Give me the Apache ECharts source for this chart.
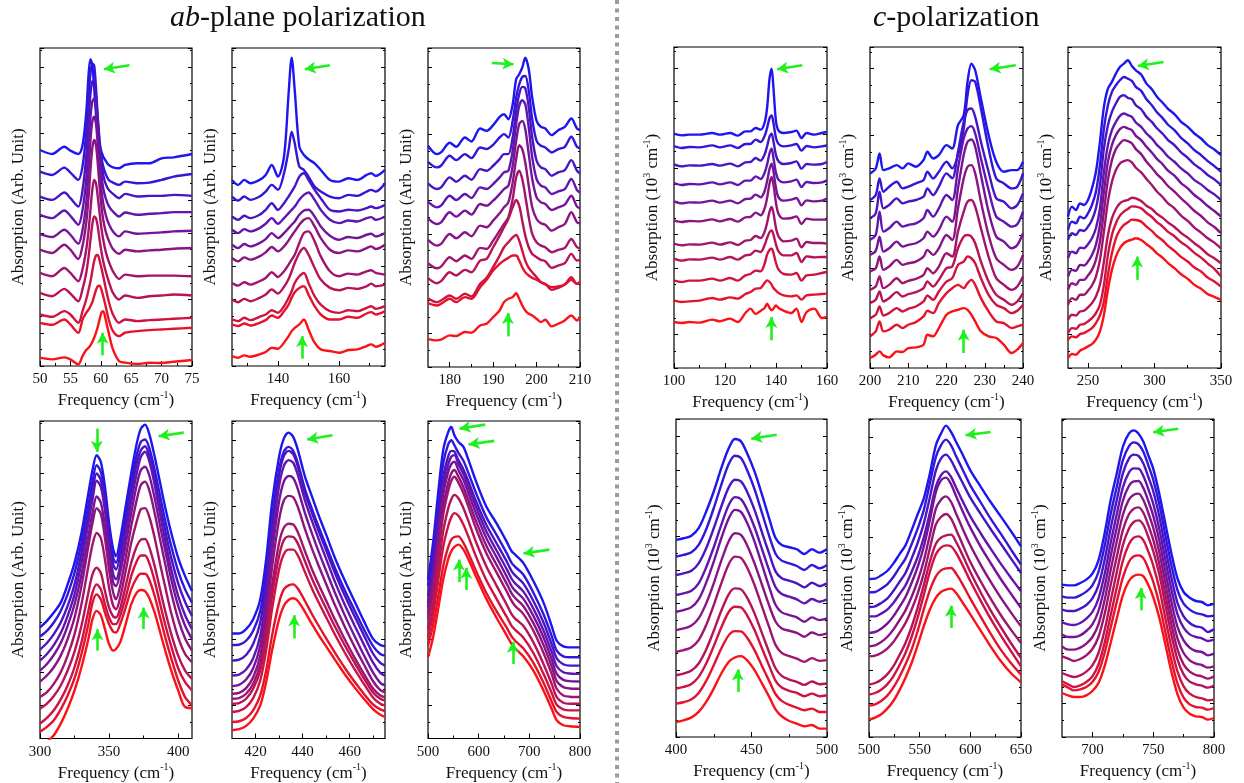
<!DOCTYPE html>
<html><head><meta charset="utf-8">
<script src="https://cdn.jsdelivr.net/npm/echarts@6/dist/echarts.min.js"></script>
<style>html,body{margin:0;padding:0;background:#fff}#c{width:1244px;height:783px}</style>
</head><body><div id="c"></div>
<script>
// ---------- DATA (curves listed bottom/red -> top/blue, arbitrary stacked units) ----------
const freqP1 = [50,52,54,55,56.3,57,57.6,58,58.3,58.6,58.9,59.2,59.5,59.8,60.1,60.4,60.8,61.3,62,63,64,66,68,70,72,75];
const absP1 = [
[25,20,26,20,5,30,48,55,62,72,85,100,118,140,160,165,140,100,50,15,10,6,10,9,13,18],
[130,124,140,125,100,140,160,170,180,192,210,228,240,242,230,210,180,140,105,90,100,105,108,110,112,115],
[155,148,165,155,130,165,200,230,255,285,315,332,334,318,295,270,235,195,155,130,140,135,138,140,142,145],
[220,210,232,218,195,232,280,330,380,425,450,445,420,380,345,315,285,255,220,200,212,205,210,212,215,212],
[280,270,295,280,255,292,350,410,470,530,560,550,510,460,415,380,345,315,285,262,275,270,272,272,272,270],
[350,340,365,350,322,362,430,510,590,655,680,665,610,540,480,440,405,378,352,338,350,345,348,350,353,355],
[397,388,410,395,368,410,490,590,680,735,750,730,665,590,530,490,455,428,405,390,405,398,400,402,405,407],
[455,445,468,452,425,470,560,670,750,795,805,775,705,630,575,535,505,482,465,450,462,455,458,460,463,463],
[510,500,522,505,480,530,630,740,820,855,860,815,740,665,610,575,548,530,518,505,518,510,512,512,515,512],
[585,575,597,582,560,602,700,810,880,910,905,840,750,680,630,600,578,560,552,545,555,550,552,560,570,578],
[650,638,660,648,638,665,760,880,923,905,840,760,700,665,645,630,618,605,598,595,605,610,610,625,628,638]];
const arrowsP1 = [[64.7,905,60.5,893],[60.3,32,60.3,100]];

const freqP2 = [125,127,129,131,134,136,138,140,142,143.5,144.5,145.5,147,148.5,150,152,154,157,160,163,166,169,170.5,172,175];
const absP2 = [
[30,25,32,28,35,42,55,52,70,90,105,115,125,140,110,70,50,45,40,48,50,60,65,58,70],
[125,120,128,122,130,138,152,145,165,185,205,222,235,240,215,180,155,140,140,148,145,158,162,155,165],
[140,135,145,138,148,155,168,160,180,205,225,250,270,280,250,210,185,165,160,168,165,175,180,172,180],
[200,192,202,195,205,215,230,218,238,262,285,310,340,355,335,295,260,235,228,235,232,240,248,240,245],
[250,242,252,245,255,265,282,268,285,305,320,335,370,400,405,375,330,285,270,278,275,285,288,280,275],
[325,315,327,320,330,342,358,345,360,378,392,405,425,440,445,420,385,350,340,348,345,355,360,352,365],
[365,355,367,360,370,382,400,385,400,415,425,435,455,468,470,450,420,392,380,388,385,395,398,390,400],
[410,400,412,405,415,428,445,428,445,460,470,480,500,515,522,500,470,440,430,438,435,445,448,440,450],
[450,440,452,445,455,470,490,470,490,510,525,540,570,580,560,530,505,470,465,470,468,475,480,475,485],
[510,498,510,500,510,525,545,530,580,650,705,670,600,590,570,540,525,510,505,515,512,525,530,525,550],
[560,545,560,550,560,575,605,570,630,820,928,830,660,635,622,610,590,560,555,565,560,575,580,572,590]];
const arrowsP2 = [[157.0,905,148.8,893],[147.9,22,147.9,90]];

const freqP3 = [175,177,178,180,181.5,183.5,185,187,188.5,190,191.5,192.5,193.5,194.5,195.3,196,196.7,197.4,198.2,199,200,201,202,203.5,205,206.5,208,209.3,210];
const absP3 = [
[84,80,82,95,93,105,103,125,130,150,170,195,205,210,222,205,185,170,160,155,145,135,142,122,130,140,155,140,150],
[192,185,190,205,195,210,205,240,262,290,310,320,328,335,335,320,300,285,275,268,262,255,248,240,242,248,262,250,257],
[207,195,200,215,205,220,212,250,268,300,335,360,375,390,397,380,350,320,298,285,270,255,250,232,238,248,270,250,252],
[267,252,258,285,275,292,285,320,325,360,395,420,445,480,502,485,440,395,360,340,330,322,318,298,305,312,340,320,322],
[312,297,302,330,318,335,325,358,355,380,410,430,450,505,570,590,565,515,450,400,375,365,360,345,352,358,385,360,357],
[382,365,370,400,387,405,393,425,420,440,462,480,495,555,625,667,655,615,545,480,445,432,428,410,420,430,465,435,432],
[447,430,435,465,452,470,458,490,485,500,520,535,545,605,680,730,740,715,640,565,510,495,490,472,480,488,515,482,477],
[497,480,485,515,502,520,508,540,535,550,570,585,590,650,730,785,802,790,720,630,565,545,540,520,528,535,565,532,524],
[552,535,540,570,557,575,563,595,590,605,625,640,640,690,770,820,842,838,780,690,620,600,595,575,585,592,622,590,582],
[617,600,605,635,622,640,628,660,655,668,690,700,690,740,810,850,872,875,830,745,680,665,660,645,655,662,692,662,657],
[665,640,645,674,662,690,678,717,710,727,752,760,745,790,865,880,900,930,895,810,740,722,717,697,712,722,747,717,712]];
const arrowsP3 = [[189.7,914,194.7,910],[193.4,92,193.4,162]];

const freqP4 = [100,103,106,110,115,118,122,125,128,130,132,134,135.5,136.5,137.5,138.3,139,140,141,143,146,148,150,152,155,158,160];
const absP4 = [
[138,135,138,136,145,140,148,138,165,178,162,172,180,193,180,173,178,188,180,172,165,178,138,168,178,150,153],
[203,198,200,202,210,205,212,208,222,228,238,240,255,263,258,250,240,232,225,218,215,218,205,218,220,222,223],
[263,258,262,262,268,262,270,262,278,282,292,290,312,340,355,358,345,315,295,282,280,285,262,278,280,285,288],
[328,322,326,325,331,325,333,325,338,340,352,348,368,390,408,413,400,370,350,338,338,345,318,335,332,333,333],
[373,368,371,370,376,370,377,369,382,384,396,390,408,435,470,483,465,420,395,380,382,388,362,378,375,375,373],
[443,438,441,440,446,440,447,439,452,453,466,458,478,510,555,573,550,495,462,448,450,455,432,448,445,445,445],
[500,494,497,496,502,496,502,494,507,508,520,512,530,560,598,613,590,540,512,502,505,510,488,503,500,502,508],
[555,549,552,551,557,551,557,549,562,562,575,567,585,610,645,658,630,585,565,557,560,565,543,558,555,557,563],
[611,605,608,607,612,607,613,605,617,618,630,622,640,665,695,703,680,638,620,612,615,620,598,612,610,612,618],
[666,660,663,662,668,662,668,660,672,672,685,678,695,720,750,758,735,690,672,665,668,672,652,666,662,665,668],
[703,698,700,700,705,700,705,697,710,710,720,715,735,780,870,898,840,740,712,705,708,712,690,705,700,705,708]];
const arrowsP4 = [[150.3,908,140.4,896],[138.2,83,138.2,153]];

const freqP5 = [200,201.5,202.5,203.5,205,207,208.5,210,212,214,215,216.5,218,220,221.5,223,224.5,225.5,226.5,227.5,229,231,233,235,237,238.5,240];
const absP5 = [
[30,40,50,38,32,50,48,60,62,70,100,95,120,160,170,175,180,175,160,140,110,95,90,70,45,55,75],
[95,110,140,110,115,130,120,130,138,155,172,165,195,225,240,250,240,255,265,250,210,170,140,135,120,125,130],
[150,160,185,158,165,180,170,178,185,200,218,205,230,260,270,310,320,335,330,315,270,220,190,180,165,172,190],
[195,205,230,200,210,228,215,222,228,240,260,245,265,300,305,360,395,400,395,375,320,260,220,205,190,200,225],
[235,245,275,240,250,270,255,262,268,280,300,285,305,345,335,410,470,500,505,485,420,335,270,250,235,245,275],
[290,300,335,295,305,325,310,315,320,335,355,340,360,400,385,480,570,605,610,585,500,400,330,310,295,305,340],
[340,352,395,350,360,380,365,370,375,390,410,395,415,455,440,540,640,680,687,665,580,470,395,380,360,370,405],
[385,400,470,410,420,440,425,430,435,450,475,455,480,520,505,600,690,720,727,705,630,535,455,440,425,432,470],
[450,465,530,480,490,510,495,500,505,515,540,520,545,585,570,650,740,775,780,755,680,590,510,500,480,490,525],
[505,520,570,530,545,560,540,545,555,565,590,570,590,620,600,640,720,820,865,860,780,660,570,555,540,545,585],
[585,600,645,595,600,610,600,615,605,625,650,630,640,670,660,730,760,860,915,895,810,700,620,590,595,595,620]];
const arrowsP5 = [[238.1,910,231.3,898],[224.5,45,224.5,115]];

const freqP6 = [235,238,241,244,247,250,253,256,259,262,265,268,271,274,277,280,283,286,290,294,298,302,306,310,315,320,325,330,335,340,345,350];
const absP6 = [
[30,42,40,52,58,65,72,85,110,160,235,295,335,360,375,382,386,390,385,372,360,344,332,316,300,282,268,250,238,222,214,205],
[85,95,92,102,105,112,120,135,158,200,280,345,390,415,430,438,446,445,440,425,412,396,384,368,352,334,320,302,290,272,260,245],
[105,120,118,130,132,140,150,165,190,250,340,400,435,458,470,478,486,485,480,466,454,438,426,410,396,378,364,346,332,314,298,275],
[145,160,158,170,172,182,195,215,250,320,400,450,478,495,502,505,512,510,502,488,478,463,452,438,424,406,392,375,360,342,330,315],
[190,210,205,220,220,232,248,275,325,410,500,560,595,615,622,625,618,602,588,568,550,530,514,496,480,458,442,422,407,390,377,360],
[235,255,250,265,265,278,295,325,380,470,565,625,658,675,685,682,675,658,643,620,602,582,567,548,530,510,492,472,457,438,424,405],
[275,295,292,310,308,320,340,370,430,530,620,670,700,718,725,720,715,698,685,665,648,628,613,594,578,556,540,520,505,487,472,455],
[330,350,345,362,360,372,390,420,480,590,670,715,740,758,765,760,755,738,725,705,690,670,655,636,620,600,585,565,552,535,522,505],
[385,405,400,415,412,425,445,480,550,660,730,770,795,815,820,812,808,790,778,755,740,720,705,686,670,648,632,612,598,580,567,550],
[415,440,435,455,450,465,490,530,610,720,790,830,850,865,875,870,863,845,833,808,790,768,752,732,715,692,675,655,640,622,607,590],
[455,485,475,495,490,505,540,590,680,785,840,860,885,905,915,925,908,895,882,855,838,815,798,780,763,740,725,705,690,670,657,640]];
const arrowsP6 = [[306.8,920,287.5,908],[287,265,287,335]];

const freqP7 = [300,305,310,315,320,325,330,335,338,341,344,347,350,353,355,358,362,366,370,373,376,379,383,387,391,395,400,405,410];
const absP7 = [
[-25,-10,10,45,90,145,215,300,360,385,372,330,285,265,270,290,345,405,440,448,445,425,380,320,260,205,145,95,92],
[20,35,55,88,130,182,255,345,410,435,420,380,345,322,320,345,395,450,485,497,497,480,430,365,300,242,175,125,100],
[45,62,85,118,160,215,290,385,440,465,450,405,365,345,345,370,425,490,535,552,552,530,475,405,338,278,212,170,145],
[90,105,128,160,205,262,340,440,495,515,500,445,395,368,365,392,460,530,580,600,602,578,520,448,378,315,250,205,180],
[125,140,165,200,250,315,405,520,585,620,605,540,455,400,390,425,505,590,655,692,695,670,605,525,450,378,305,255,230],
[172,190,215,250,300,365,460,580,650,695,678,605,510,440,420,460,545,640,720,765,775,750,680,598,518,440,360,302,265],
[205,225,252,288,340,405,495,610,680,730,712,640,545,470,460,500,585,680,765,810,820,795,725,640,560,480,400,340,300],
[235,255,282,318,370,435,530,650,720,778,760,688,580,495,480,520,615,715,800,850,865,838,765,675,590,510,430,372,330],
[268,288,315,350,400,465,560,675,745,800,780,710,605,525,510,550,645,745,830,870,882,855,785,700,620,545,468,412,370],
[308,325,350,385,435,500,590,705,775,825,805,735,630,545,530,575,670,770,855,895,902,878,810,730,650,580,505,450,410],
[335,355,380,410,465,530,620,740,810,855,835,760,650,570,550,600,700,800,890,935,947,920,850,770,690,620,545,490,445]];
const arrowsP7 = [[341.1,935,341.1,865],[404,923,385.8,912],[341.6,265,341.6,330],[375,330,375,395]];

const freqP8 = [410,413,416,419,422,424.5,427,430,432,434,436,438,441,444,447,450,454,458,462,466,470,473,475];
const absP8 = [
[25,28,38,60,100,170,265,360,400,418,423,415,382,345,310,278,235,193,155,120,88,72,65],
[50,52,62,85,130,205,310,410,450,462,465,452,415,375,338,302,256,212,172,135,102,88,83],
[80,83,95,122,175,265,390,510,556,570,570,552,502,452,408,366,310,258,210,165,123,105,100],
[105,107,120,150,205,300,430,550,598,610,608,588,535,482,436,392,334,280,230,182,138,120,115],
[120,122,135,165,225,325,460,590,636,648,646,622,565,510,462,416,355,298,245,196,150,130,125],
[135,138,152,185,250,360,515,660,718,732,728,698,632,572,518,466,398,336,278,224,172,146,140],
[158,162,178,212,280,395,560,715,775,792,786,752,680,618,560,506,435,370,310,252,198,168,160],
[190,193,208,242,310,430,600,762,822,840,832,795,718,656,598,542,468,402,342,284,228,198,190],
[235,238,252,285,350,470,640,795,852,868,858,820,740,680,622,568,495,430,370,312,255,228,220],
[282,283,295,325,385,500,665,810,865,880,868,830,752,692,635,582,510,446,388,330,278,255,250],
[317,317,330,360,420,540,710,850,905,923,910,870,790,730,670,615,540,475,415,355,300,282,278]];
const arrowsP8 = [[452.7,915,441.9,902],[436.4,302,436.4,372]];

const freqP9 = [500,510,520,530,540,546,552,560,570,580,595,615,635,655,665,672,688,708,728,744,754,767,780,800];
const absP9 = [
[245,305,390,480,542,565,578,585,570,540,488,422,365,312,285,272,248,205,145,90,55,40,37,35],
[280,342,428,520,578,600,608,610,590,558,505,440,385,335,308,295,272,228,168,112,80,65,62,60],
[305,375,475,578,642,668,680,672,645,608,548,478,422,368,340,328,305,258,195,138,102,88,85,85],
[330,405,512,625,695,722,735,725,695,655,592,520,462,405,375,362,340,290,225,165,125,108,105,105],
[360,440,555,675,748,778,790,772,740,698,633,560,502,445,415,400,376,325,258,195,150,130,126,125],
[375,460,580,700,772,800,810,790,758,718,655,582,525,468,438,424,400,348,282,218,173,155,151,150],
[395,485,610,735,805,828,835,810,780,740,678,605,548,490,460,446,422,370,305,240,195,177,173,172],
[410,505,635,760,828,850,855,828,798,758,698,625,568,512,482,468,444,392,326,262,218,200,196,195],
[430,530,665,790,852,868,866,840,812,775,715,645,590,535,505,492,468,415,350,285,242,224,220,220],
[460,565,705,830,888,900,885,862,838,800,740,668,615,560,530,518,495,440,375,310,265,248,245,245],
[480,590,740,870,925,940,915,895,880,840,775,700,650,595,565,555,530,475,410,340,295,278,275,275]];
const arrowsP9 = [[612.9,947,562.4,935],[630.7,898,580.1,887],[739.7,570,688.4,558],[561,472,561,540],[575.5,448,575.5,515],[667.4,225,667.4,292]];

const freqP10 = [400,405,410,415,420,425,430,435,439,443,447,452,457,462,466,470,475,480,485,490,495,500];
const absP10 = [
[45,50,58,75,105,145,190,225,238,242,230,200,160,118,82,62,48,40,32,36,25,25],
[100,104,112,132,168,215,265,305,317,316,298,260,212,165,128,108,96,88,80,85,75,75],
[145,150,158,180,220,272,328,375,390,388,365,320,265,210,168,148,138,132,122,130,122,125],
[185,190,198,220,262,318,378,428,445,442,418,370,310,250,205,183,172,165,156,166,158,160],
[255,260,268,290,335,395,460,518,540,536,508,455,390,325,275,252,242,235,225,236,228,230],
[320,325,333,355,400,460,528,587,610,605,575,520,455,390,345,325,318,312,300,313,305,310],
[375,380,388,412,462,525,595,655,680,674,642,585,515,445,395,373,365,358,345,358,350,355],
[425,430,437,460,508,568,635,695,718,712,682,628,562,495,448,428,420,412,400,413,405,412],
[485,490,497,520,565,625,690,748,770,765,735,680,612,545,495,475,468,460,448,462,452,460],
[540,545,552,575,622,685,755,818,842,835,800,742,670,598,548,528,520,512,500,515,505,515],
[590,595,602,625,675,735,805,865,892,885,850,795,725,650,595,575,568,562,548,562,552,563]];
const arrowsP10 = [[466.7,905,449.8,893],[441,135,441,202]];

const freqP11 = [500,506,512,518,524,530,536,542,548,554,560,566,571,576,581,586,592,600,610,620,630,640,650];
const absP11 = [
[52,58,68,85,108,140,178,222,275,332,382,418,435,442,445,432,405,368,320,272,228,192,164],
[94,98,108,124,148,180,218,262,318,382,440,482,500,506,507,490,460,415,362,310,262,222,187],
[127,132,142,158,182,215,252,300,358,425,495,548,568,575,572,552,518,468,410,355,305,258,212],
[157,162,172,188,212,245,282,330,388,455,525,580,598,605,607,585,548,495,435,380,330,282,237],
[242,244,252,265,285,312,342,382,430,490,565,638,660,669,655,622,580,525,468,415,366,322,282],
[272,275,285,300,322,350,380,420,468,528,605,685,712,722,705,670,628,575,518,466,418,374,332],
[312,315,325,340,362,390,420,462,510,570,650,735,770,778,758,722,680,628,572,522,474,430,387],
[362,362,370,382,402,428,455,495,540,598,672,752,785,797,780,748,710,662,612,565,520,478,437],
[390,392,402,415,438,465,492,535,582,640,718,800,835,847,830,800,765,718,670,624,580,536,492],
[434,435,445,458,480,508,535,578,625,680,760,840,875,892,875,842,805,755,705,655,610,563,517],
[474,475,485,498,520,548,575,620,668,715,790,875,910,934,915,885,850,800,752,705,662,618,572]];
const arrowsP11 = [[620,915,595.3,905],[580.8,327,580.8,394]];

const freqP12 = [675,680,685,690,695,700,705,710,715,720,725,730,734,738,742,746,750,755,760,765,770,775,780,785,790,795,800];
const absP12 = [
[132,125,120,120,125,138,162,212,282,355,425,468,483,487,482,456,420,358,278,196,128,88,70,62,60,52,57],
[157,148,140,143,150,165,195,252,328,405,478,525,542,545,536,505,466,400,315,230,160,118,98,90,88,82,87],
[167,158,150,155,165,182,218,282,365,448,528,578,598,602,590,556,515,446,356,268,196,152,130,120,116,110,112],
[192,185,180,185,196,215,252,320,408,494,575,625,645,650,636,600,558,488,396,306,232,188,166,158,154,148,154],
[242,235,228,234,245,264,300,368,456,540,620,668,685,689,672,635,592,520,428,338,262,218,196,186,182,175,182],
[272,262,262,268,280,300,338,410,500,586,666,712,727,730,710,672,628,555,462,370,295,252,230,220,216,208,212],
[307,300,300,305,318,338,378,450,542,628,708,753,767,768,746,708,664,590,496,405,330,290,268,258,255,245,250],
[344,338,336,342,355,375,415,488,582,668,748,793,806,805,782,744,700,625,532,442,368,328,308,300,296,288,292],
[382,378,378,385,396,416,455,530,625,710,790,835,847,843,820,780,738,662,568,478,402,362,342,332,328,315,324],
[422,418,418,425,436,455,495,572,668,750,830,872,884,878,855,815,772,698,605,515,440,400,382,372,368,362,364],
[457,455,455,462,472,490,530,610,710,790,870,910,920,910,885,845,805,730,640,550,475,435,418,408,405,395,400]];
const arrowsP12 = [[770.6,925,750,914],[739.8,380,739.8,447]];

// axis ranges and tick labels
const xRanges = [[50,75],[125,175],[175,210],[100,160],[200,240],[235,350],[300,410],[410,475],[500,800],[400,500],[500,650],[675,800]];
const xLabels = [[50,55,60,65,70,75],[140,160],[180,190,200,210],[100,120,140,160],[200,210,220,230,240],[250,300,350],
                 [300,350,400],[420,440,460],[500,600,700,800],[400,450,500],[500,550,600,650],[700,750,800]];
const xMinor = [[52.5,57.5,62.5,67.5,72.5],[130,150,170],[185,195,205],[110,130,150],[205,215,225,235],[275,325],
                [325,375],[430,450,470],[550,650,750],[425,475],[525,575,625],[725,775]];
const yMax = [957,957,959,963,965,965,958,958,958,952,954,954];

// ---------- LAYOUT / STYLE ----------
const grids = [
 {left:40, top:48, width:152, height:318},{left:232, top:48, width:153, height:318},{left:428, top:48, width:152, height:319},
 {left:674, top:47, width:153, height:321},{left:870, top:47, width:153, height:321},{left:1068, top:47, width:153, height:321},
 {left:40, top:421, width:152, height:319},{left:232, top:421, width:153, height:319},{left:428, top:421, width:152, height:319},
 {left:676, top:419, width:151, height:318},{left:869, top:419, width:152, height:318},{left:1062, top:419, width:152, height:318}];
const freqs = [freqP1,freqP2,freqP3,freqP4,freqP5,freqP6,freqP7,freqP8,freqP9,freqP10,freqP11,freqP12];
const abss = [absP1,absP2,absP3,absP4,absP5,absP6,absP7,absP8,absP9,absP10,absP11,absP12];
const arrows = [arrowsP1,arrowsP2,arrowsP3,arrowsP4,arrowsP5,arrowsP6,arrowsP7,arrowsP8,arrowsP9,arrowsP10,arrowsP11,arrowsP12];
const isAB = [true,true,true,false,false,false,true,true,true,false,false,false];

const FONT = 'Liberation Serif';
function colorFor(i, n){ // i=0 red ... n-1 blue
  const t = i/(n-1);
  const r = Math.round(250*(1-t) + 28*t), g = Math.round(18*(1-t) + 22*t), b = Math.round(22*(1-t) + 240*t);
  return 'rgb('+r+','+g+','+b+')';
}
const richX = {
  t:{fontFamily:FONT, fontSize:17, color:'#111', lineHeight:22},
  s:{fontFamily:FONT, fontSize:10, color:'#111', lineHeight:22, verticalAlign:'top'}
};
const richY = {
  t:{fontFamily:FONT, fontSize:17, color:'#111', lineHeight:22},
  s:{fontFamily:FONT, fontSize:10, color:'#111', lineHeight:22, verticalAlign:'top'}
};

const option = {animation:false, backgroundColor:'#fff', grid:[], xAxis:[], yAxis:[], series:[], graphic:[]};
for (let p=0; p<12; p++){
  const g = grids[p];
  option.grid.push({left:g.left, top:g.top, width:g.width, height:g.height, show:true, borderColor:'#000', borderWidth:1.2, backgroundColor:'transparent'});
  option.xAxis.push({type:'value', gridIndex:p, min:xRanges[p][0], max:xRanges[p][1],
    axisLine:{show:false}, splitLine:{show:false},
    axisTick:{inside:true, length:5, lineStyle:{color:'#000'}, customValues:xLabels[p]},
    axisLabel:{customValues:xLabels[p], fontFamily:FONT, fontSize:15, color:'#111', margin:6},
    name:'{t|Frequency (cm}{s|-1}{t|)}', nameLocation:'middle', nameGap:24,
    nameTextStyle:{rich:richX}});
  option.xAxis.push({type:'value', gridIndex:p, min:xRanges[p][0], max:xRanges[p][1], position:'bottom',
    axisLine:{show:false}, splitLine:{show:false}, axisLabel:{show:false},
    axisTick:{inside:true, length:3, lineStyle:{color:'#000'}, customValues:xMinor[p]}});
  option.yAxis.push({type:'value', gridIndex:p, min:0, max:yMax[p], interval:100,
    axisLine:{show:false}, splitLine:{show:false}, axisLabel:{show:false},
    axisTick:{inside:true, length:4, lineStyle:{color:'#000'}},
    minorTick:{show:true, splitNumber:2, length:2, lineStyle:{color:'#000'}},
    name: isAB[p] ? '{t|Absorption (Arb. Unit)}' : '{t|Absorption (10}{s|3}{t| cm}{s|-1}{t|)}',
    nameLocation:'middle', nameGap:10, nameTextStyle:{rich:richY}});
  option.yAxis.push({type:'value', gridIndex:p, min:0, max:yMax[p], interval:100, position:'right',
    axisLine:{show:false}, splitLine:{show:false}, axisLabel:{show:false},
    axisTick:{inside:true, length:4, lineStyle:{color:'#000'}},
    minorTick:{show:true, splitNumber:2, length:2, lineStyle:{color:'#000'}}});
  const X = freqs[p], Ys = abss[p], n = Ys.length;
  for (let k=n-1; k>=0; k--){
    const s = {type:'line', xAxisIndex:2*p, yAxisIndex:2*p, symbol:'none', smooth:0.3, clip:true,
      lineStyle:{width:2.4, color:colorFor(k,n)}, data:X.map((x,j)=>[x, Ys[k][j]]), z:2};
    if (k===0){
      s.markLine = {silent:true, symbol:['none','arrow'], symbolSize:[9,11], precision:3,
        lineStyle:{color:'#1ef01e', width:2.6, type:'solid'}, label:{show:false},
        data: arrows[p].map(a=>[{coord:[a[0],a[1]]},{coord:[a[2],a[3]]}])};
    }
    option.series.push(s);
  }
}
option.graphic = [
  {type:'text', left:170, top:3, style:{text:'{i|ab}{r|-plane polarization}', rich:{
     i:{fontFamily:FONT, fontSize:30, fontStyle:'italic', fill:'#111'}, r:{fontFamily:FONT, fontSize:30, fill:'#111'}}}},
  {type:'text', left:873, top:3, style:{text:'{i|c}{r|-polarization}', rich:{
     i:{fontFamily:FONT, fontSize:30, fontStyle:'italic', fill:'#111'}, r:{fontFamily:FONT, fontSize:30, fill:'#111'}}}},
  {type:'line', shape:{x1:617, y1:0, x2:617, y2:783}, style:{stroke:'#9a9a9a', lineWidth:4, lineDash:[4,4.5]}}
];
const chart = echarts.init(document.getElementById('c'), null, {renderer:'canvas'});
chart.setOption(option);
</script></body></html>
